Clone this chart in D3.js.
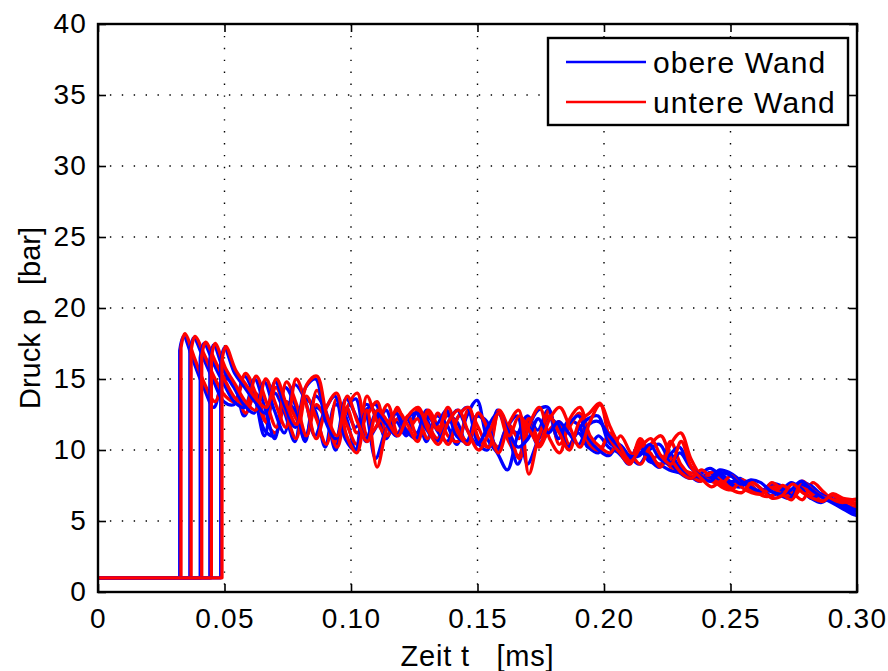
<!DOCTYPE html>
<html><head><meta charset="utf-8">
<script src="https://cdn.jsdelivr.net/npm/d3@7"></script>
<style>
body{margin:0;background:#fff}
svg{display:block}
text{font-family:"Liberation Sans",Arial,Helvetica,sans-serif;fill:#000}
</style>
</head><body>
<svg id="chart" width="888" height="671"></svg>
<script>
// ---------------- data ----------------
const xTicks = [0, 0.05, 0.10, 0.15, 0.20, 0.25, 0.30];
const xTickLabels = ["0", "0.05", "0.10", "0.15", "0.20", "0.25", "0.30"];
const yTicks = [0, 5, 10, 15, 20, 25, 30, 35, 40];
const yTickLabels = ["0", "5", "10", "15", "20", "25", "30", "35", "40"];
const seriesNames = ["obere Wand", "untere Wand"];
const xLabel = "Zeit t   [ms]";
const yLabel = "Druck p   [bar]";

const initialPressure = 1;          // bar before the shock arrives
const riseTime = 0.0015;            // ms from arrival to first sample
const sampleStep = 0.004;           // ms between samples

// arrival times of the shock (ms)
const jumpObere  = [0.0323, 0.0363, 0.0404, 0.0442, 0.0485];
const jumpUntere = [0.0328, 0.0368, 0.0410, 0.0448, 0.0490];

// pressure samples (bar), one array per sensor
const obere1 = [18.0,16.2,14.4,13.0,15.0,14.6,12.4,13.8,11.4,11.0,13.4,12.8,10.8,13.0,12.4,10.4,12.8,11.6,12.8,13.2,10.8,12.0,11.0,12.6,12.2,10.6,12.4,12.0,10.4,12.4,11.8,10.0,11.6,11.2,12.0,10.4,11.2,11.8,10.2,11.2,10.2,9.8,10.8,9.8,9.2,10.2,9.2,9.0,8.6,8.4,8.2,8.0,8.4,7.8,7.6,8.0,7.4,7.1,7.4,7.0,6.7,7.2,6.6,6.3,6.6,6.0,5.6,5.4];
const obere2 = [17.9,16.4,14.8,13.4,13.2,15.2,13.8,11.0,14.0,12.6,10.6,13.6,12.8,10.2,13.2,12.4,10.0,13.2,12.6,10.8,12.6,11.2,12.6,10.6,12.4,11.8,10.4,12.4,13.5,10.8,9.8,8.6,11.0,12.4,11.4,12.8,10.8,12.0,11.8,10.2,11.0,10.2,9.8,9.2,10.4,9.4,8.8,9.8,8.8,8.2,7.8,8.4,8.4,7.8,7.8,7.3,7.0,7.6,7.5,6.9,7.6,7.2,6.7,6.5,6.3,5.9,5.7];
const obere3 = [17.5,16.0,14.6,13.4,13.0,15.0,13.0,10.8,14.4,13.2,10.6,13.8,12.8,10.0,12.8,13.6,10.6,11.6,12.8,11.0,12.2,11.2,12.8,11.4,10.6,12.2,13.0,10.6,10.0,12.8,11.4,9.0,11.4,12.8,13.0,10.8,11.8,12.4,10.8,10.0,9.6,10.4,9.6,9.0,10.0,10.4,9.2,8.4,8.0,8.3,8.7,8.2,7.6,7.4,7.8,7.3,6.8,7.1,7.7,7.3,6.6,6.9,6.6,6.2,5.8,5.6];
const obere4 = [17.4,15.6,14.4,13.2,12.6,14.8,12.8,11.2,14.6,13.6,11.0,12.8,13.8,10.8,10.0,12.6,9.4,11.4,12.6,11.4,10.8,12.4,11.8,12.8,11.0,10.6,12.4,12.0,10.0,11.6,12.4,9.0,10.6,12.2,11.8,10.2,11.4,12.2,12.4,10.6,10.0,9.0,9.8,9.6,8.8,9.6,10.2,9.0,8.2,8.0,8.6,8.4,7.9,7.4,7.1,7.1,6.8,6.6,7.7,7.5,6.9,6.5,6.0,5.8,5.7];
const obere5 = [17.2,15.4,14.4,13.4,12.6,14.8,13.0,11.6,14.4,15.0,12.0,10.8,13.6,12.4,10.8,12.6,11.8,11.0,12.2,12.6,11.4,10.6,11.8,12.8,11.4,10.4,11.6,12.6,11.4,10.2,10.8,12.2,11.2,12.0,11.2,10.4,11.8,12.0,11.0,10.2,9.6,9.6,10.4,9.4,9.0,9.8,8.8,8.2,7.8,8.4,8.2,7.6,7.9,7.7,7.1,6.9,7.2,7.8,7.2,6.7,6.3,5.9,5.5,5.3];

const untere1 = [18.2,16.4,14.6,13.4,15.2,14.4,12.6,14.0,12.0,11.2,13.4,12.2,11.0,13.2,12.0,10.6,13.0,11.2,12.4,13.4,11.0,12.2,11.2,12.8,11.8,10.8,12.6,11.4,10.6,12.6,11.2,10.2,11.8,10.8,12.2,10.2,11.4,12.0,10.4,11.6,10.4,10.0,11.0,10.0,9.4,10.6,9.4,9.6,8.8,8.6,8.4,8.2,8.0,7.6,7.4,7.9,7.2,7.0,7.5,7.0,6.8,7.5,6.8,6.4,6.8,6.2,6.0,5.8];
const untere2 = [18.0,16.6,15.0,13.8,13.4,15.4,14.0,12.0,14.4,12.6,10.8,13.8,12.2,10.4,13.6,11.8,10.4,13.8,12.0,11.0,13.0,11.4,12.2,10.8,12.6,11.0,10.6,12.8,11.6,10.2,12.6,10.6,9.6,12.2,10.8,12.8,10.4,11.6,12.6,10.4,10.0,11.2,10.0,9.2,10.8,9.6,9.0,10.6,9.0,8.2,7.8,8.4,8.0,7.4,7.8,7.1,6.9,7.7,7.2,6.6,7.3,7.0,6.4,6.9,6.4,6.2,6.0];
const untere3 = [17.6,16.2,14.8,13.6,13.2,15.2,13.4,11.6,14.8,13.2,11.0,14.2,12.2,10.2,13.0,14.0,11.0,11.8,13.2,11.2,12.4,10.8,12.8,11.6,10.4,12.4,13.0,10.8,10.2,12.8,11.4,9.4,11.8,13.0,10.8,9.8,12.2,13.0,11.0,10.2,9.8,11.0,9.8,9.0,10.4,11.0,9.4,8.4,8.0,8.6,8.0,7.4,7.2,7.9,7.5,6.8,6.8,7.5,7.0,6.5,7.7,7.1,6.5,6.5,6.3,6.2];
const untere4 = [17.5,15.8,14.6,13.4,12.8,15.0,13.2,11.6,15.0,13.2,10.8,13.0,14.0,11.0,9.8,12.8,8.8,11.6,12.8,11.8,10.6,12.6,11.4,13.0,11.2,10.4,12.6,11.4,9.8,11.8,12.8,8.3,11.0,12.4,11.2,10.0,12.0,12.6,13.3,10.8,9.8,9.0,10.4,9.8,8.8,10.4,11.2,9.4,8.2,7.8,7.6,8.2,7.4,7.0,6.9,7.3,6.9,6.5,7.8,7.2,6.7,6.5,6.3,6.5,6.6];
const untere5 = [17.3,15.6,14.6,13.6,13.0,15.0,13.2,11.8,14.6,15.2,12.4,11.0,13.8,12.0,10.6,12.8,12.0,11.0,12.4,13.0,11.4,10.4,12.0,12.8,11.2,10.0,11.2,12.6,11.0,12.4,11.4,10.4,12.2,13.0,11.6,10.2,12.0,13.2,11.6,10.2,9.2,10.2,10.8,9.6,9.0,10.6,8.8,8.0,7.4,7.8,7.2,7.0,7.7,7.2,6.6,6.8,7.6,7.0,6.6,6.4,6.9,6.6,6.5,6.4];

const obereSeries  = [obere1, obere2, obere3, obere4, obere5];
const untereSeries = [untere1, untere2, untere3, untere4, untere5];

// ---------------- chart ----------------
const margin = {left: 98, right: 31, top: 24, bottom: 79};
const W = 888, H = 671;
const iw = W - margin.left - margin.right;
const ih = H - margin.top - margin.bottom;

const svg = d3.select("#chart");
svg.append("rect").attr("width", W).attr("height", H).attr("fill", "#fff");

const x = d3.scaleLinear().domain([0, 0.30]).range([0, iw]);
const y = d3.scaleLinear().domain([0, 40]).range([ih, 0]);

const g = svg.append("g").attr("transform", `translate(${margin.left},${margin.top})`);

svg.append("defs").append("clipPath").attr("id", "clip")
  .append("rect").attr("x", -2).attr("y", -2).attr("width", iw + 1).attr("height", ih + 4);

// grid
const grid = g.append("g");
grid.selectAll("line.gx").data(xTicks.slice(1, -1)).join("line")
  .attr("x1", d => x(d)).attr("x2", d => x(d)).attr("y1", 0).attr("y2", ih)
  .attr("stroke", "#000").attr("stroke-width", 1.4).attr("stroke-dasharray", "1.4,10.5");
grid.selectAll("line.gy").data(yTicks.slice(1, -1)).join("line")
  .attr("y1", d => y(d)).attr("y2", d => y(d)).attr("x1", 0).attr("x2", iw)
  .attr("stroke", "#000").attr("stroke-width", 1.4).attr("stroke-dasharray", "1.4,10.5");

// traces: flat + vertical rise drawn straight, the rest smooth
const smooth = d3.line().x(d => x(d[0])).y(d => y(d[1])).curve(d3.curveCatmullRom.alpha(0.5));
function tracePath(jump, values) {
  const pts = values.map((v, k) => [jump + riseTime + k * sampleStep, v]);
  const riseTop = [jump, values[0] - 1];
  const head = `M${x(0)},${y(initialPressure)}L${x(jump)},${y(initialPressure)}`;
  return head + "L" + smooth([riseTop].concat(pts)).slice(1);
}
const traces = g.append("g").attr("clip-path", "url(#clip)");
const colors = ["#0000ff", "#ff0000"];
for (let i = 0; i < 5; i++) {
  traces.append("path").attr("d", tracePath(jumpObere[i], obereSeries[i]))
    .attr("fill", "none").attr("stroke", colors[0])
    .attr("stroke-width", 3.3).attr("stroke-linejoin", "round");
  traces.append("path").attr("d", tracePath(jumpUntere[i], untereSeries[i]))
    .attr("fill", "none").attr("stroke", colors[1])
    .attr("stroke-width", 3.3).attr("stroke-linejoin", "round");
}

// axes (ticks inside, on all sides)
const tickLen = 8;
const xAxis = d3.axisBottom(x).tickValues(xTicks).tickFormat((d, i) => xTickLabels[i])
  .tickSizeInner(-tickLen).tickSizeOuter(0).tickPadding(16);
const yAxis = d3.axisLeft(y).tickValues(yTicks).tickFormat((d, i) => yTickLabels[i])
  .tickSizeInner(-tickLen).tickSizeOuter(0).tickPadding(11);
const xTop = d3.axisTop(x).tickValues(xTicks).tickFormat("").tickSizeInner(-tickLen).tickSizeOuter(0);
const yRight = d3.axisRight(y).tickValues(yTicks).tickFormat("").tickSizeInner(-tickLen).tickSizeOuter(0);

function style(sel) {
  sel.select(".domain").remove();
  sel.selectAll(".tick line").attr("stroke", "#000").attr("stroke-width", 1.6);
  sel.selectAll("text").attr("font-size", 28).attr("letter-spacing", 1.2).attr("fill", "#000");
}
g.append("g").attr("transform", `translate(0,${ih})`).call(xAxis).call(style);
g.append("g").call(yAxis).call(style);
g.append("g").call(xTop).call(style);
g.append("g").attr("transform", `translate(${iw},0)`).call(yRight).call(style);

g.append("rect").attr("width", iw).attr("height", ih)
  .attr("fill", "none").attr("stroke", "#000").attr("stroke-width", 2.4);

// axis labels
svg.append("text").attr("x", margin.left + iw / 2).attr("y", 666)
  .attr("text-anchor", "middle").attr("font-size", 29).attr("letter-spacing", 0.8)
  .style("white-space", "pre").text(xLabel);
svg.append("text").attr("transform", `translate(40,${margin.top + ih / 2 + 10}) rotate(-90)`)
  .attr("text-anchor", "middle").attr("font-size", 29)
  .style("white-space", "pre").text(yLabel);

// legend
const leg = svg.append("g").attr("transform", "translate(548,38)");
leg.append("rect").attr("width", 300).attr("height", 87)
  .attr("fill", "#fff").attr("stroke", "#000").attr("stroke-width", 2.4);
seriesNames.forEach((name, i) => {
  const yy = 24 + i * 40;
  leg.append("line").attr("x1", 18).attr("x2", 98).attr("y1", yy).attr("y2", yy)
    .attr("stroke", colors[i]).attr("stroke-width", 2.4);
  leg.append("text").attr("x", 105).attr("y", yy + 11).attr("font-size", 30)
    .attr("letter-spacing", 1.1).text(name);
});
</script>
</body></html>
